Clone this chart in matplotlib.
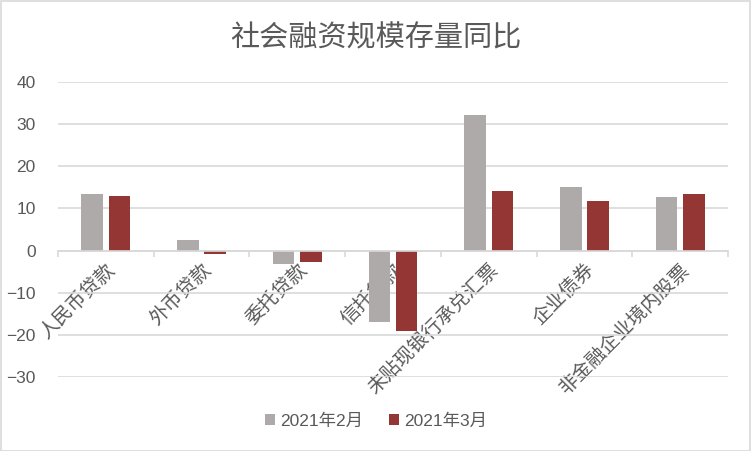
import matplotlib
matplotlib.use("Agg")
import matplotlib.pyplot as plt
import numpy as np
from matplotlib.patches import Rectangle

plt.rcParams['font.family'] = ['Liberation Sans', 'Noto Sans CJK SC', 'DejaVu Sans']

categories = ['人民币贷款', '外币贷款', '委托贷款', '信托贷款', '未贴现银行承兑汇票', '企业债券', '非金融企业境内股票']
feb = [13.5, 2.5, -3.1, -16.9, 32.2, 15.1, 12.7]
mar = [13.0, -0.9, -2.7, -19.2, 14.2, 11.8, 13.5]
series_names = ['2021年2月', '2021年3月']
yticks = [-30, -20, -10, 0, 10, 20, 30, 40]
title = '社会融资规模存量同比'

c_feb = '#AEAAAA'
c_mar = '#943634'
txt = '#595959'
grid = '#D9D9D9'

fig = plt.figure(figsize=(7.52, 4.51), dpi=100)
fig.patches.append(Rectangle((0.001, 0.001), 0.997, 0.997, transform=fig.transFigure,
                             fill=False, edgecolor='#D9D9D9', linewidth=1.2))
ax = fig.add_axes([58/752, 1-377/451, (728-58)/752, (377-82)/451])

x = np.arange(len(categories))
w = 0.225
gap = 0.06
ax.bar(x - w/2 - gap/2, feb, w, color=c_feb, label=series_names[0], zorder=3)
ax.bar(x + w/2 + gap/2, mar, w, color=c_mar, label=series_names[1], zorder=3)

ax.set_xlim(-0.5, len(categories) - 0.5)
ax.set_ylim(-30, 40)
ax.set_yticks(yticks)
ax.yaxis.grid(True, color=grid, linewidth=1.2, zorder=0)
ax.set_axisbelow(True)
for s in ['top', 'right', 'left']:
    ax.spines[s].set_visible(False)
ax.spines['bottom'].set_position(('data', 0))
ax.spines['bottom'].set_color(grid)
ax.spines['bottom'].set_linewidth(1.2)
ax.spines['bottom'].set_zorder(4)

ax.set_xticks(x)
ax.set_xticklabels(categories, rotation=45, ha='right', va='top', rotation_mode='anchor',
                   fontsize=14, color=txt)
ax.set_xticks(np.arange(len(categories) + 1) - 0.5, minor=True)
ax.tick_params(axis='x', which='major', length=0, pad=7)
ax.tick_params(axis='x', which='minor', length=4, color=grid, width=1.2)
ax.tick_params(axis='y', length=0, labelsize=12.5, labelcolor=txt, pad=16)

fig.suptitle(title, y=0.945, fontsize=21, color=txt)

leg = fig.legend(loc='center', bbox_to_anchor=(0.5, 1-421/451), ncol=2, frameon=False,
                 fontsize=12.5, handlelength=0.55, handleheight=0.55, handletextpad=0.3,
                 columnspacing=1.5, labelcolor=txt)

fig.savefig('out.png', dpi=100)
